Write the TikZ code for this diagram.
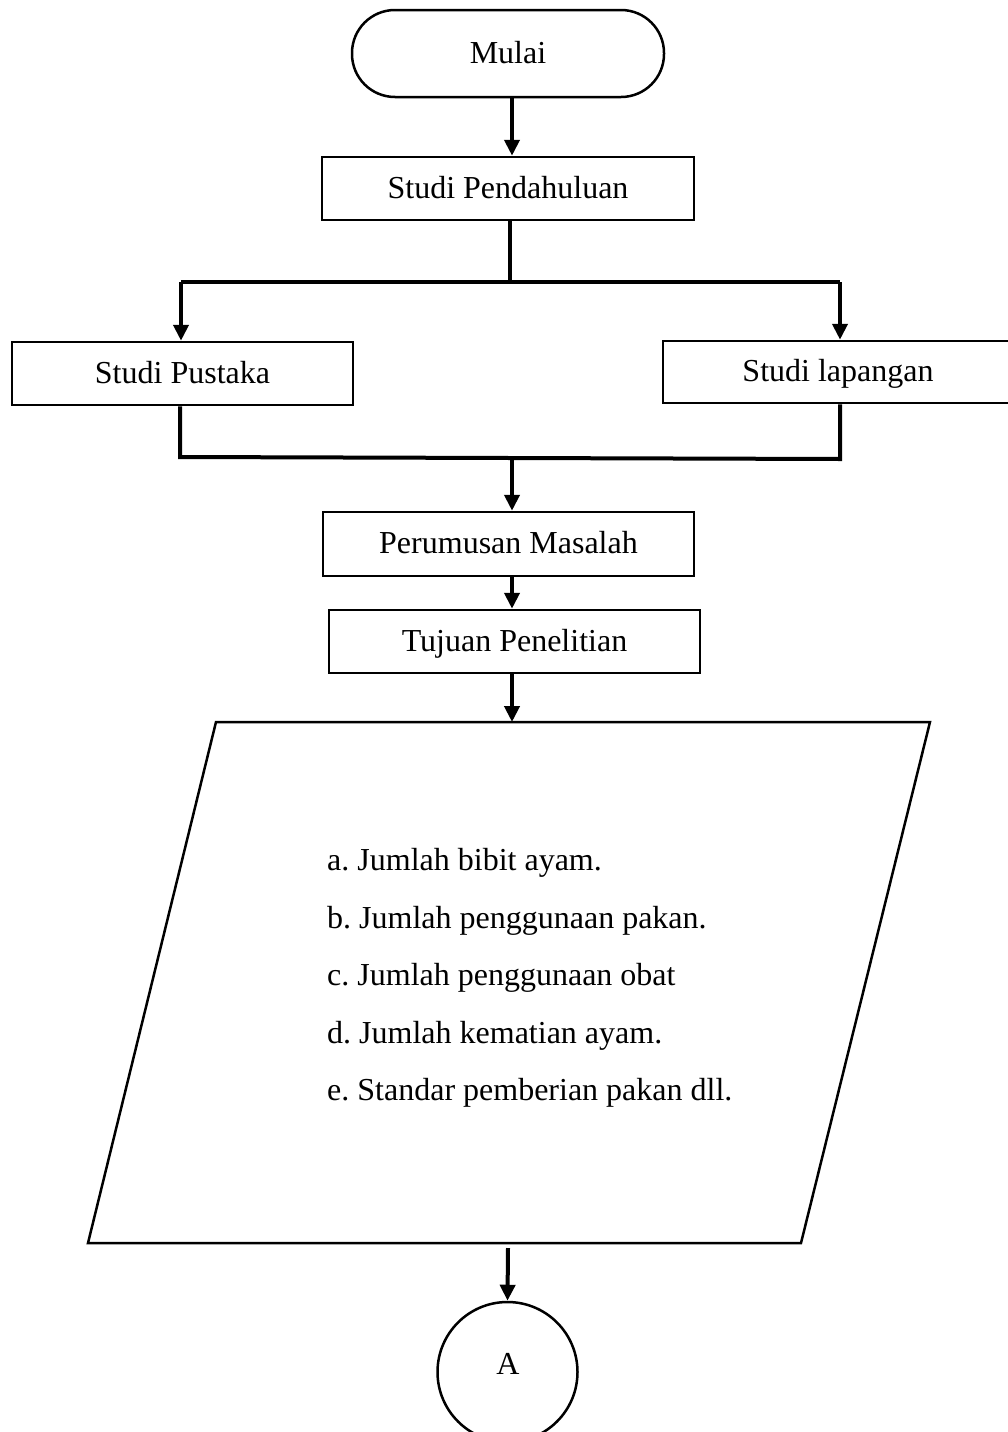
\documentclass[tikz,border=0pt]{standalone}
\usepackage{fontspec}
\setmainfont{Liberation Serif}
\usetikzlibrary{arrows.meta}
\begin{document}
\frenchspacing
\begin{tikzpicture}[x=1pt,y=-1pt,
  box/.style={draw, line width=2.5pt, rectangle, minimum height=63pt, inner sep=0pt, text height=26pt, text depth=7pt, font=\fontsize{32}{38}\selectfont},
  arr/.style={line width=4pt, -{Triangle[length=16pt,width=15pt]}},
  ln/.style={line width=4pt},
  thin/.style={line width=2.5pt, line join=miter},
  txt/.style={font=\fontsize{32}{38}\selectfont, inner sep=0pt}]
\useasboundingbox (0,0) rectangle (1008,1432);
\clip (0,0) rectangle (1008,1432);
\coordinate (col) at (512,0);
% nodes
\node[box, rounded corners=43pt, minimum width=312pt, minimum height=87pt] (mulai) at (508,53.5) {Mulai};
\node[box, minimum width=372pt] (pend) at (508,188.5) {Studi Pendahuluan};
\node[box, minimum width=341pt] (pustaka) at (182.5,373.5) {Studi Pustaka};
\node[box, minimum width=350pt, minimum height=62pt] (lapangan) at (838,372) {Studi lapangan};
\node[box, minimum width=371pt, minimum height=64pt] (perumusan) at (508.5,544) {Perumusan Masalah};
\node[box, minimum width=371pt] (tujuan) at (514.5,641.5) {Tujuan Penelitian};
% parallelogram
\coordinate (p1) at (216,722);
\coordinate (p2) at (930,722);
\coordinate (p3) at (801,1243);
\coordinate (p4) at (88,1243);
\draw[thin] (p1) -- (p2) -- (p3) -- (p4) -- cycle;
\node[txt, anchor=base west] (la) at (327,870) {a. Jumlah bibit ayam.};
\node[txt, anchor=base west] (lb) at (327,928) {b. Jumlah penggunaan pakan.};
\node[txt, anchor=base west] (lc) at (327,985) {c. Jumlah penggunaan obat};
\node[txt, anchor=base west] (ld) at (327,1043) {d. Jumlah kematian ayam.};
\node[txt, anchor=base west] (le) at (327,1100) {e. Standar pemberian pakan dll.};
\node[draw, circle, line width=2.5pt, minimum size=140pt, inner sep=0pt] (A) at (507.5,1372) {};
\node[txt] (Atext) at (508,1364) {A};
% connectors
\draw[arr] (mulai.south -| col) -- (pend.north -| col);
\coordinate (split) at (510,282);
\coordinate (bl) at (181,282);
\coordinate (br) at (840,282);
\draw[ln] (pend.south -| split) -- (split);
\draw[ln] (bl) -- (br);
\draw[arr] (bl) -- (bl |- pustaka.north);
\draw[arr] (br) -- (br |- lapangan.north);
\coordinate (jl) at (180,457);
\coordinate (jr) at (840,459);
\coordinate (jm) at (512,458);
\draw[ln] (pustaka.south -| jl) -- (jl) -- (jr) -- (jr |- lapangan.south);
\draw[arr] (jm) -- (perumusan.north -| col);
\draw[arr] (perumusan.south -| col) -- (tujuan.north -| col);
\coordinate (pt) at (512,722);
\draw[arr] (tujuan.south -| col) -- (pt);
\coordinate (pb) at (508,1248);
\draw[arr] (pb) -- (A.north);
\end{tikzpicture}
\end{document}
